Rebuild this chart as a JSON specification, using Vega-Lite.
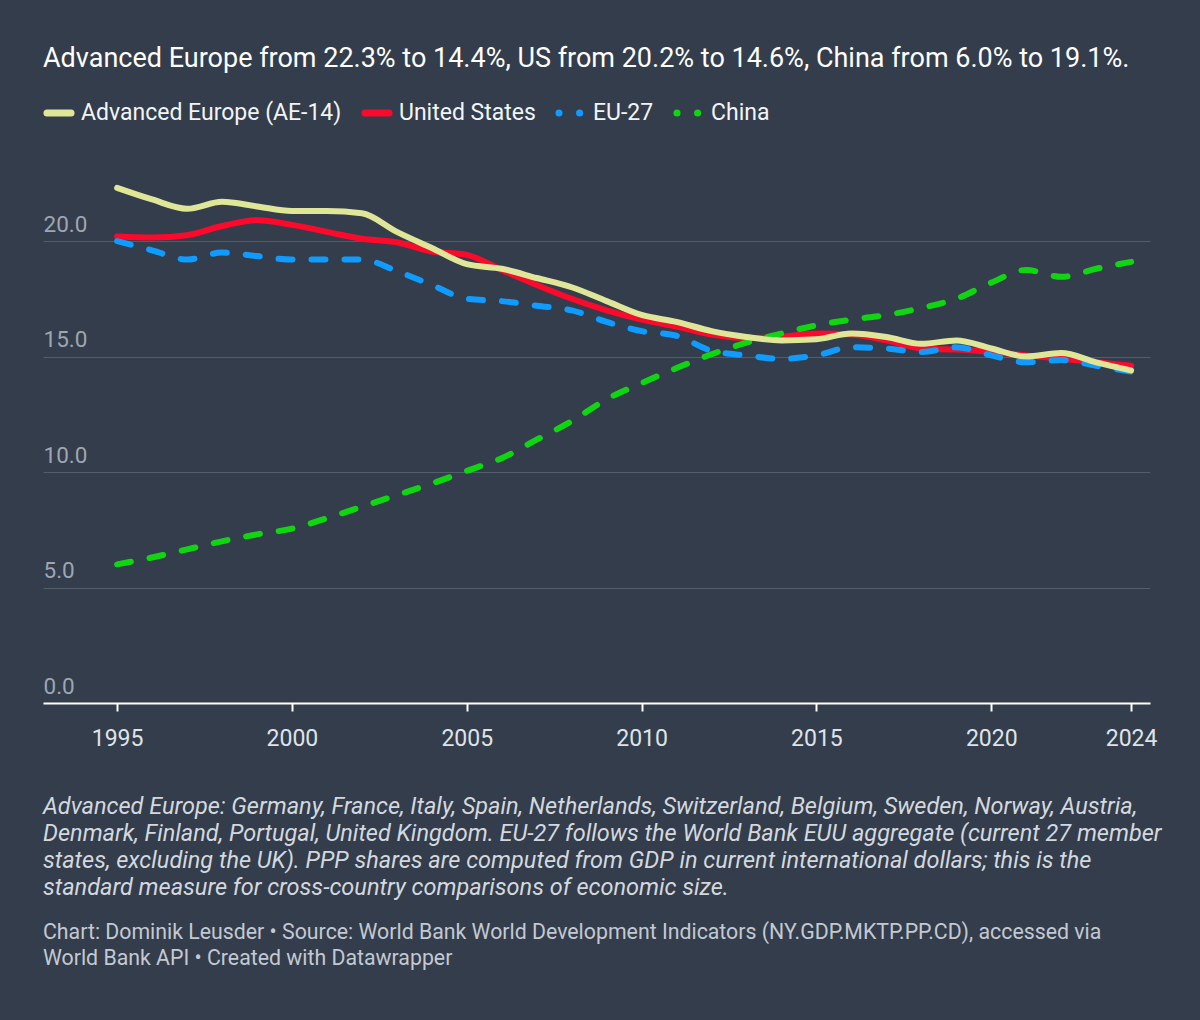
{
  "$schema": "https://vega.github.io/schema/vega-lite/v6.json",
  "autosize": {"type": "none"},
  "width": 1107,
  "height": 528,
  "padding": {"left": 43, "top": 175, "right": 50, "bottom": 317},
  "background": "#333d4b",
  "config": {
    "font": "Roboto",
    "view": {"stroke": null},
    "title": {"font": "Roboto", "subtitleFont": "Roboto"}
  },
  "title": {
    "text": ["Advanced Europe: Germany, France, Italy, Spain, Netherlands, Switzerland, Belgium, Sweden, Norway, Austria,", "Denmark, Finland, Portugal, United Kingdom. EU-27 follows the World Bank EUU aggregate (current 27 member", "states, excluding the UK). PPP shares are computed from GDP in current international dollars; this is the", "standard measure for cross-country comparisons of economic size."],
    "subtitle": ["Chart: Dominik Leusder • Source: World Bank World Development Indicators (NY.GDP.MKTP.PP.CD), accessed via", "World Bank API • Created with Datawrapper"],
    "orient": "bottom",
    "anchor": "start",
    "frame": "group",
    "align": "left",
    "offset": 45,
    "fontSize": 23.5,
    "fontStyle": "italic",
    "fontWeight": "normal",
    "lineHeight": 27,
    "color": "#d3d8df",
    "subtitleFontSize": 21.3,
    "subtitleColor": "#c3c9d2",
    "subtitleLineHeight": 26,
    "subtitlePadding": 22
  },
  "data": {
    "values": [
      {"year": 1995, "ae14": 22.3, "us": 20.2, "eu27": 20.0, "china": 6.0},
      {"year": 1996, "ae14": 21.8, "us": 20.15, "eu27": 19.6, "china": 6.3},
      {"year": 1997, "ae14": 21.4, "us": 20.25, "eu27": 19.2, "china": 6.65},
      {"year": 1998, "ae14": 21.7, "us": 20.65, "eu27": 19.5, "china": 7.0},
      {"year": 1999, "ae14": 21.5, "us": 20.9, "eu27": 19.35, "china": 7.3},
      {"year": 2000, "ae14": 21.3, "us": 20.7, "eu27": 19.2, "china": 7.55},
      {"year": 2001, "ae14": 21.3, "us": 20.4, "eu27": 19.2, "china": 8.0},
      {"year": 2002, "ae14": 21.2, "us": 20.1, "eu27": 19.2, "china": 8.5},
      {"year": 2003, "ae14": 20.4, "us": 19.95, "eu27": 18.7, "china": 9.0},
      {"year": 2004, "ae14": 19.7, "us": 19.55, "eu27": 18.1, "china": 9.5},
      {"year": 2005, "ae14": 19.0, "us": 19.4, "eu27": 17.5, "china": 10.05},
      {"year": 2006, "ae14": 18.8, "us": 18.75, "eu27": 17.4, "china": 10.6},
      {"year": 2007, "ae14": 18.4, "us": 18.1, "eu27": 17.2, "china": 11.4},
      {"year": 2008, "ae14": 18.0, "us": 17.5, "eu27": 17.0, "china": 12.2},
      {"year": 2009, "ae14": 17.4, "us": 17.0, "eu27": 16.5, "china": 13.15},
      {"year": 2010, "ae14": 16.8, "us": 16.6, "eu27": 16.1, "china": 13.85},
      {"year": 2011, "ae14": 16.5, "us": 16.3, "eu27": 15.9, "china": 14.5},
      {"year": 2012, "ae14": 16.1, "us": 15.95, "eu27": 15.25, "china": 15.1},
      {"year": 2013, "ae14": 15.85, "us": 15.8, "eu27": 15.05, "china": 15.6},
      {"year": 2014, "ae14": 15.7, "us": 15.85, "eu27": 14.9, "china": 16.0},
      {"year": 2015, "ae14": 15.75, "us": 16.0, "eu27": 15.05, "china": 16.35},
      {"year": 2016, "ae14": 16.0, "us": 15.95, "eu27": 15.4, "china": 16.6},
      {"year": 2017, "ae14": 15.85, "us": 15.7, "eu27": 15.35, "china": 16.8},
      {"year": 2018, "ae14": 15.55, "us": 15.35, "eu27": 15.2, "china": 17.1},
      {"year": 2019, "ae14": 15.7, "us": 15.3, "eu27": 15.4, "china": 17.5},
      {"year": 2020, "ae14": 15.35, "us": 15.2, "eu27": 15.05, "china": 18.2},
      {"year": 2021, "ae14": 15.0, "us": 15.05, "eu27": 14.75, "china": 18.75},
      {"year": 2022, "ae14": 15.15, "us": 14.9, "eu27": 14.85, "china": 18.45},
      {"year": 2023, "ae14": 14.75, "us": 14.75, "eu27": 14.6, "china": 18.8},
      {"year": 2024, "ae14": 14.4, "us": 14.6, "eu27": 14.35, "china": 19.1}
    ]
  },
  "transform": [
    {"fold": ["ae14", "us", "eu27", "china"], "as": ["series", "value"]}
  ],
  "encoding": {
    "x": {
      "field": "year",
      "type": "quantitative",
      "scale": {"domain": [1992.88, 2024.54], "nice": false, "zero": false},
      "axis": {
        "values": [1995, 2000, 2005, 2010, 2015, 2020, 2024],
        "format": "d",
        "title": null,
        "grid": false,
        "domainColor": "#ffffff",
        "domainWidth": 2,
        "tickColor": "#ffffff",
        "tickWidth": 2,
        "tickSize": 8,
        "labelColor": "#dfe3e9",
        "labelFontSize": 23,
        "labelPadding": 16,
        "labelFont": "Roboto"
      }
    },
    "y": {
      "field": "value",
      "type": "quantitative",
      "scale": {"domain": [0, 22.86], "nice": false},
      "axis": {
        "values": [0, 5, 10, 15, 20],
        "format": ".1f",
        "title": null,
        "domain": false,
        "ticks": false,
        "tickSize": 0,
        "labelPadding": 0,
        "labelAlign": "left",
        "labelBaseline": "alphabetic",
        "labelOffset": -10,
        "labelColor": "#9ea6b1",
        "labelFontSize": 22.5,
        "labelFont": "Roboto",
        "gridColor": "#535d6b",
        "gridWidth": 1.2
      }
    },
    "color": {
      "field": "series",
      "type": "nominal",
      "scale": {
        "domain": ["ae14", "us", "eu27", "china"],
        "range": ["#e0e697", "#fb0a2c", "#0f9bff", "#10d612"]
      },
      "legend": {
        "orient": "top",
        "direction": "horizontal",
        "title": "Advanced Europe from 22.3% to 14.4%, US from 20.2% to 14.6%, China from 6.0% to 19.1%.",
        "titleOrient": "top",
        "titleFont": "Roboto",
        "titleFontSize": 27,
        "titleFontWeight": "normal",
        "titleColor": "#ffffff",
        "titleLimit": 1200,
        "titlePadding": 24,
        "offset": 48,
        "labelExpr": "{'ae14': 'Advanced Europe (AE-14)', 'us': 'United States', 'eu27': 'EU-27', 'china': 'China'}[datum.value]",
        "labelFont": "Roboto",
        "labelFontSize": 23,
        "labelColor": "#f2f4f7",
        "labelLimit": 400,
        "labelOffset": 6,
        "symbolType": "stroke",
        "symbolSize": 580,
        "symbolStrokeWidth": 7,
        "columnPadding": 8,
        "encode": {
          "symbols": {
            "update": {
              "strokeCap": {"value": "round"},
              "strokeDash": [
                {"test": "datum.value === 'eu27' || datum.value === 'china'", "value": [0.1, 20.5]},
                {"value": [1, 0]}
              ]
            }
          }
        }
      }
    }
  },
  "layer": [
    {
      "transform": [{"filter": "datum.series === 'us'"}],
      "mark": {"type": "line", "interpolate": "monotone", "strokeWidth": 6, "strokeCap": "round", "strokeJoin": "round"}
    },
    {
      "transform": [{"filter": "datum.series === 'eu27'"}],
      "mark": {"type": "line", "interpolate": "monotone", "strokeWidth": 6, "strokeCap": "round", "strokeDash": [14, 19]}
    },
    {
      "transform": [{"filter": "datum.series === 'china'"}],
      "mark": {"type": "line", "interpolate": "monotone", "strokeWidth": 6, "strokeCap": "round", "strokeDash": [14, 19]}
    },
    {
      "transform": [{"filter": "datum.series === 'ae14'"}],
      "mark": {"type": "line", "interpolate": "monotone", "strokeWidth": 6, "strokeCap": "round", "strokeJoin": "round"}
    }
  ]
}
